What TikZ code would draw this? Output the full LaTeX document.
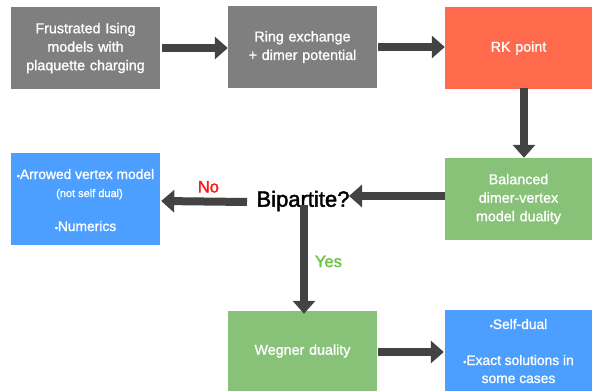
\documentclass[tikz,border=0pt]{standalone}
\usepackage{fontspec}
\setmainfont{Liberation Sans}[FakeBold=1.2]
\newfontfamily\headfont{Liberation Sans}[FakeBold=2]
\usetikzlibrary{arrows.meta}
\definecolor{boxgray}{HTML}{7F7F7F}
\definecolor{boxred}{HTML}{FF6A4D}
\definecolor{boxgreen}{HTML}{88C178}
\definecolor{boxblue}{HTML}{4C9FFF}
\definecolor{arrowgray}{HTML}{434343}
\definecolor{nored}{HTML}{FF1A1A}
\definecolor{yesgreen}{HTML}{6CC644}
\newcommand{\bul}{{\fontsize{9}{9}\selectfont•}}
\begin{document}
\begin{tikzpicture}[x=1pt,y=-1pt,
  box/.style={rectangle, inner sep=0pt, text=white, align=center,
    font=\fontsize{14.3}{18.5}\selectfont, text width=#1},
  box/.default=140pt,
  flow/.style={draw=arrowgray, line width=8pt,
    -{Triangle[length=13pt,width=22pt]}},
  lbl/.style={font=\headfont\fontsize{16.5}{18}\selectfont},
  btxt/.style={text=white, font=\fontsize{13.8}{15}\selectfont, anchor=base}
]
\useasboundingbox (0,0) rectangle (592,391);
\node[box, fill=boxgray, minimum width=149pt, minimum height=82pt] (b1) at (85.5,48) {Frustrated Ising\\models with\\plaquette charging};
\node[box, fill=boxgray, minimum width=149pt, minimum height=82pt] (b2) at (302.5,47) {Ring exchange\\+ dimer potential};
\node[box, fill=boxred, minimum width=147pt, minimum height=82pt] (b3) at (518.5,48) {RK point};
\node[box, fill=boxgreen, minimum width=147pt, minimum height=82pt] (b4) at (518.5,199) {Balanced\\dimer-vertex\\model duality};
\node[box, fill=boxblue, minimum width=149pt, minimum height=92pt] (b5) at (85.5,199) {};
\node[btxt] (b5a) at (85.5,179) {\bul Arrowed vertex model};
\node[btxt, font=\fontsize{11}{12}\selectfont] (b5b) at (89.5,197) {(not self dual)};
\node[btxt] (b5c) at (85.5,231) {\bul Numerics};
\node[font=\headfont\fontsize{22}{24}\selectfont] (bip) at (303,201) {Bipartite?};
\node[box, fill=boxgreen, minimum width=149pt, minimum height=80pt] (b6) at (302.5,351) {Wegner duality};
\node[box, fill=boxblue, minimum width=147pt, minimum height=81pt] (b7) at (518.5,350.5) {};
\node[btxt] (b7a) at (518.5,329) {\bul Self-dual};
\node[btxt] (b7b) at (518.5,365) {\bul Exact solutions in};
\node[btxt] (b7c) at (518.5,383) {some cases};
\draw[flow] ([xshift=2pt]b1.east) -- (b1.east -| b2.west);
\draw[flow] ([xshift=1pt]b2.east) -- (b2.east -| b3.west);
\draw[flow] ([xshift=5.5pt,yshift=1pt]b3.south) -- ([xshift=5.5pt]b4.north);
\draw[flow] ([yshift=3pt]b4.west) -- ([xshift=-4pt,yshift=3pt]bip.east |- b4.west);
\draw[flow] ([xshift=-6pt,yshift=-1pt]bip.west) -- ([xshift=1pt]b5.east |- bip.west) node[pos=0.45, above=5pt, lbl, text=nored, inner sep=0pt] (no) {No};
\draw[flow] ([xshift=1pt,yshift=10pt]bip.south) -- ([xshift=1.5pt,yshift=-3pt]b6.north) node[pos=0.52, right=7pt, lbl, text=yesgreen, inner sep=0pt] (yes) {Yes};
\draw[flow] ([xshift=1pt,yshift=-1pt]b6.east) -- ([xshift=-1pt,yshift=-1pt]b6.east -| b7.west);
\end{tikzpicture}
\end{document}
